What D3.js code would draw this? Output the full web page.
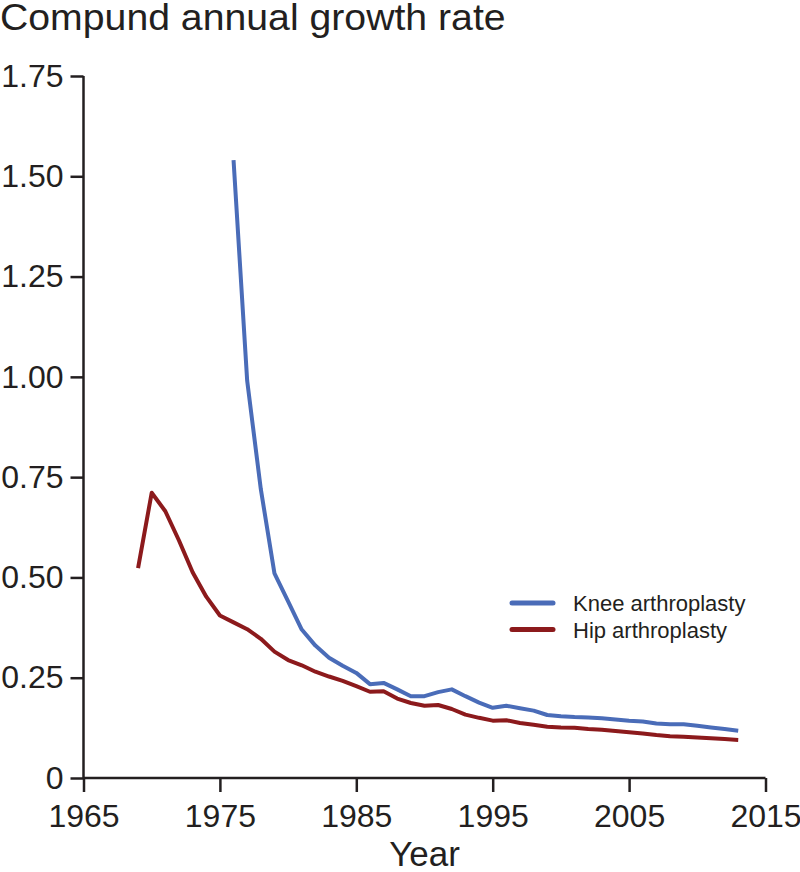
<!DOCTYPE html>
<html>
<head>
<meta charset="utf-8">
<script src="https://cdn.jsdelivr.net/npm/d3@7"></script>
<style>
  body { margin: 0; background: #fff; }
  svg { display: block; font-family: "Liberation Sans", Arial, sans-serif; }
  .axis path, .axis line { stroke: #231f20; stroke-width: 2.5px; }
  .axis text { fill: #231f20; }
</style>
</head>
<body>
<svg width="800" height="872"></svg>
<script>
const kneeYears = d3.range(1976, 2014);
const kneeRate = [1.54, 0.99, 0.72, 0.51, 0.44, 0.37, 0.33, 0.30, 0.28, 0.262, 0.234, 0.237,
  0.221, 0.204, 0.204, 0.214, 0.221, 0.204, 0.188, 0.175, 0.180, 0.174, 0.168, 0.157,
  0.154, 0.152, 0.151, 0.149, 0.146, 0.143, 0.141, 0.136, 0.134, 0.134, 0.130, 0.126,
  0.122, 0.118];

const hipYears = d3.range(1969, 2014);
const hipRate = [0.523, 0.711, 0.665, 0.592, 0.513, 0.452, 0.405, 0.388, 0.371, 0.347,
  0.315, 0.294, 0.281, 0.265, 0.253, 0.242, 0.229, 0.215, 0.216, 0.198, 0.187, 0.180,
  0.182, 0.172, 0.158, 0.150, 0.143, 0.144, 0.137, 0.133, 0.128, 0.126, 0.125, 0.122,
  0.120, 0.117, 0.114, 0.111, 0.107, 0.104, 0.103, 0.101, 0.099, 0.097, 0.095];

const xTicks = [1965, 1975, 1985, 1995, 2005, 2015];
const yTicks = [0, 0.25, 0.5, 0.75, 1.0, 1.25, 1.5, 1.75];

const series = [
  { name: "Knee arthroplasty", years: kneeYears, values: kneeRate, color: "#4a6cb8" },
  { name: "Hip arthroplasty", years: hipYears, values: hipRate, color: "#8c1a1c" }
];

const svg = d3.select("svg");

const x = d3.scaleLinear().domain([1965, 2015]).range([83.5, 765.5]);
const y = d3.scaleLinear().domain([0, 1.75]).range([778, 76]);

// title (slightly widened to look like the original's Helvetica)
svg.append("text")
  .attr("transform", "translate(0,30) scale(1.06,1)")
  .attr("font-size", 37)
  .attr("fill", "#231f20")
  .text("Compund annual growth rate");

// axes
const gx = svg.append("g")
  .attr("class", "axis")
  .attr("transform", "translate(0," + y(0) + ")")
  .call(d3.axisBottom(x).tickValues(xTicks).tickFormat(d3.format("d")).tickSize(14).tickSizeOuter(0).tickPadding(12));
gx.selectAll("text").attr("font-size", 32);
gx.select(".domain").attr("d", "M" + x(1965) + ",0H" + x(2015));

const gy = svg.append("g")
  .attr("class", "axis")
  .attr("transform", "translate(" + x(1965) + ",0)")
  .call(d3.axisLeft(y).tickValues(yTicks)
    .tickFormat(d => d === 0 ? "0" : d3.format(".2f")(d))
    .tickSize(13).tickSizeOuter(0).tickPadding(7));
gy.selectAll("text").attr("font-size", 32);
gy.select(".domain").attr("d", "M0," + y(1.75) + "V" + y(0));

svg.append("text")
  .attr("x", (x(1965) + x(2015)) / 2)
  .attr("y", 866)
  .attr("text-anchor", "middle")
  .attr("font-size", 35)
  .attr("fill", "#231f20")
  .text("Year");

// lines
const line = d3.line()
  .x(d => x(d[0]))
  .y(d => y(d[1]));

series.forEach(s => {
  svg.append("path")
    .datum(s.years.map((yr, i) => [yr, s.values[i]]))
    .attr("fill", "none")
    .attr("stroke", s.color)
    .attr("stroke-width", 4)
    .attr("stroke-linejoin", "round")
    .attr("d", line);
});

// legend
const legend = svg.append("g").attr("transform", "translate(512,603)");
series.forEach((s, i) => {
  const g = legend.append("g").attr("transform", "translate(0," + i * 26.5 + ")");
  g.append("line")
    .attr("x1", 0).attr("x2", 41)
    .attr("stroke", s.color)
    .attr("stroke-width", 5)
    .attr("stroke-linecap", "round");
  g.append("text")
    .attr("x", 61)
    .attr("y", 8)
    .attr("font-size", 22)
    .attr("fill", "#231f20")
    .text(s.name);
});
</script>
</body>
</html>
